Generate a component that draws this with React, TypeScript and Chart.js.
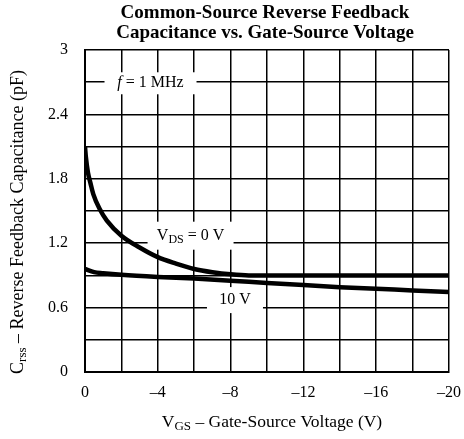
import React, { useEffect, useRef } from "react";
import { Chart, registerables } from "chart.js";

Chart.register(...registerables);

// V_GS values (V) and C_rss (pF) for each curve
const vgsZero = [0, -0.05, -0.16, -0.3, -0.45, -0.8, -1.2, -2, -3, -4, -5, -6, -7, -8, -9, -10, -12, -14, -16, -18, -20];
const crssZero = [2.1, 2.0, 1.86, 1.76, 1.66, 1.52, 1.41, 1.27, 1.16, 1.07, 1.01, 0.96, 0.93, 0.91, 0.9, 0.9, 0.9, 0.9, 0.9, 0.9, 0.9];
const vgsTen = [0, -0.5, -1, -2, -4, -6, -8, -10, -12, -14, -16, -18, -20];
const crssTen = [0.96, 0.93, 0.92, 0.905, 0.885, 0.87, 0.85, 0.83, 0.81, 0.79, 0.775, 0.76, 0.745];

const titleLines = ["Common-Source Reverse Feedback", "Capacitance vs. Gate-Source Voltage"];
const xTickLabels = ["0", "\u20134", "\u20138", "\u201312", "\u201316", "\u201320"];
const yTickLabels = ["0", "0.6", "1.2", "1.8", "2.4", "3"];

const SERIF = '"Liberation Serif", "Times New Roman", serif';

function drawSub(ctx: CanvasRenderingContext2D, parts: { t: string; sub?: boolean; italic?: boolean }[], cx: number, cy: number, size: number) {
  const subSize = Math.round(size * 0.72);
  const fontOf = (p: any) => `${p.italic ? "italic " : ""}${p.sub ? subSize : size}px ${SERIF}`;
  let w = 0;
  for (const p of parts) {
    ctx.font = fontOf(p);
    w += ctx.measureText(p.t).width;
  }
  let x = cx - w / 2;
  ctx.textBaseline = "middle";
  ctx.textAlign = "left";
  ctx.fillStyle = "#000";
  for (const p of parts) {
    ctx.font = fontOf(p);
    ctx.fillText(p.t, x, p.sub ? cy + size * 0.25 : cy);
    x += ctx.measureText(p.t).width;
  }
}

const textPlugin = {
  id: "texts",
  beforeDatasetsDraw(chart: any) {
    const ctx = chart.ctx as CanvasRenderingContext2D;
    const xs = chart.scales.x;
    const ys = chart.scales.y;
    const boxes = [
      { x: -3.6, y: 2.69, w: 92, h: 22, parts: [{ t: "f", italic: true }, { t: " = 1 MHz" }] },
      { x: -5.8, y: 1.27, w: 86, h: 28, parts: [{ t: "V" }, { t: "DS", sub: true }, { t: " = 0 V" }] },
      { x: -8.24, y: 0.67, w: 56, h: 26, parts: [{ t: "10 V" }] },
    ];
    ctx.save();
    for (const b of boxes) {
      const cx = xs.getPixelForValue(b.x);
      const cy = ys.getPixelForValue(b.y);
      ctx.fillStyle = "#fff";
      ctx.fillRect(cx - b.w / 2, cy - b.h / 2, b.w, b.h);
      drawSub(ctx, b.parts, cx, cy, 16);
    }
    ctx.restore();
  },
  afterDraw(chart: any) {
    const ctx = chart.ctx as CanvasRenderingContext2D;
    const a = chart.chartArea;
    const mid = (a.left + a.right) / 2;
    ctx.save();
    ctx.fillStyle = "#000";
    ctx.textAlign = "center";
    ctx.textBaseline = "middle";
    ctx.font = `bold 19px ${SERIF}`;
    ctx.fillText(titleLines[0], mid - 2, 13);
    ctx.fillText(titleLines[1], mid - 2, 33);
    // x axis title
    drawSub(ctx, [{ t: "V" }, { t: "GS", sub: true }, { t: " \u2013 Gate-Source Voltage (V)" }], mid + 5, 422, 17.5);
    // y axis title
    ctx.translate(18, 222);
    ctx.rotate(-Math.PI / 2);
    drawSub(ctx, [{ t: "C" }, { t: "rss", sub: true }, { t: " \u2013 Reverse Feedback Capacitance (pF)" }], 0, 0, 18);
    ctx.restore();
  },
};

export default function App() {
  const ref = useRef<HTMLCanvasElement | null>(null);
  useEffect(() => {
    if (!ref.current) return;
    const chart = new Chart(ref.current, {
      type: "line",
      data: {
        datasets: [
          {
            label: "VDS = 0 V",
            data: vgsZero.map((v, i) => ({ x: v, y: crssZero[i] })),
            borderColor: "#000",
            borderWidth: 4.5,
            pointRadius: 0,
            cubicInterpolationMode: "monotone",
            fill: false,
          },
          {
            label: "10 V",
            data: vgsTen.map((v, i) => ({ x: v, y: crssTen[i] })),
            borderColor: "#000",
            borderWidth: 4.5,
            pointRadius: 0,
            cubicInterpolationMode: "monotone",
            fill: false,
          },
        ],
      },
      options: {
        responsive: false,
        animation: false,
        layout: { padding: { top: 50, right: 15, left: 0, bottom: 0 } },
        plugins: { legend: { display: false }, title: { display: false }, tooltip: { enabled: false } },
        scales: {
          x: {
            type: "linear",
            min: -20,
            max: 0,
            reverse: true,
            afterFit: (s: any) => { s.height = 67; s.paddingLeft = 0; s.paddingRight = 0; },
            grid: { color: "#000", lineWidth: 1.5, drawTicks: false },
            border: { color: "#000", width: 2 },
            ticks: {
              stepSize: 2,
              padding: 11,
              color: "#000",
              maxRotation: 0,
              autoSkip: false,
              font: { family: SERIF, size: 16 },
              callback: (v: any) => {
                const n = Math.round(Number(v));
                return n % 4 === 0 ? xTickLabels[Math.abs(n) / 4] : "";
              },
            },
          },
          y: {
            type: "linear",
            min: 0,
            max: 3,
            afterFit: (s: any) => { s.width = 85; s.paddingTop = 0; s.paddingBottom = 0; },
            grid: { color: "#000", lineWidth: 1.5, drawTicks: false },
            border: { color: "#000", width: 2 },
            ticks: {
              stepSize: 0.3,
              padding: 17,
              color: "#000",
              autoSkip: false,
              font: { family: SERIF, size: 16 },
              callback: (v: any) => {
                const n = Math.round(Number(v) * 10);
                return n % 6 === 0 ? yTickLabels[n / 6] : "";
              },
            },
          },
        },
      },
      plugins: [textPlugin],
    } as any);
    return () => chart.destroy();
  }, []);
  return (
    <div style={{ position: "fixed", left: 0, top: 0, width: 464, height: 439, background: "#fff" }}>
      <canvas ref={ref} width={464} height={439} style={{ display: "block" }} />
    </div>
  );
}
